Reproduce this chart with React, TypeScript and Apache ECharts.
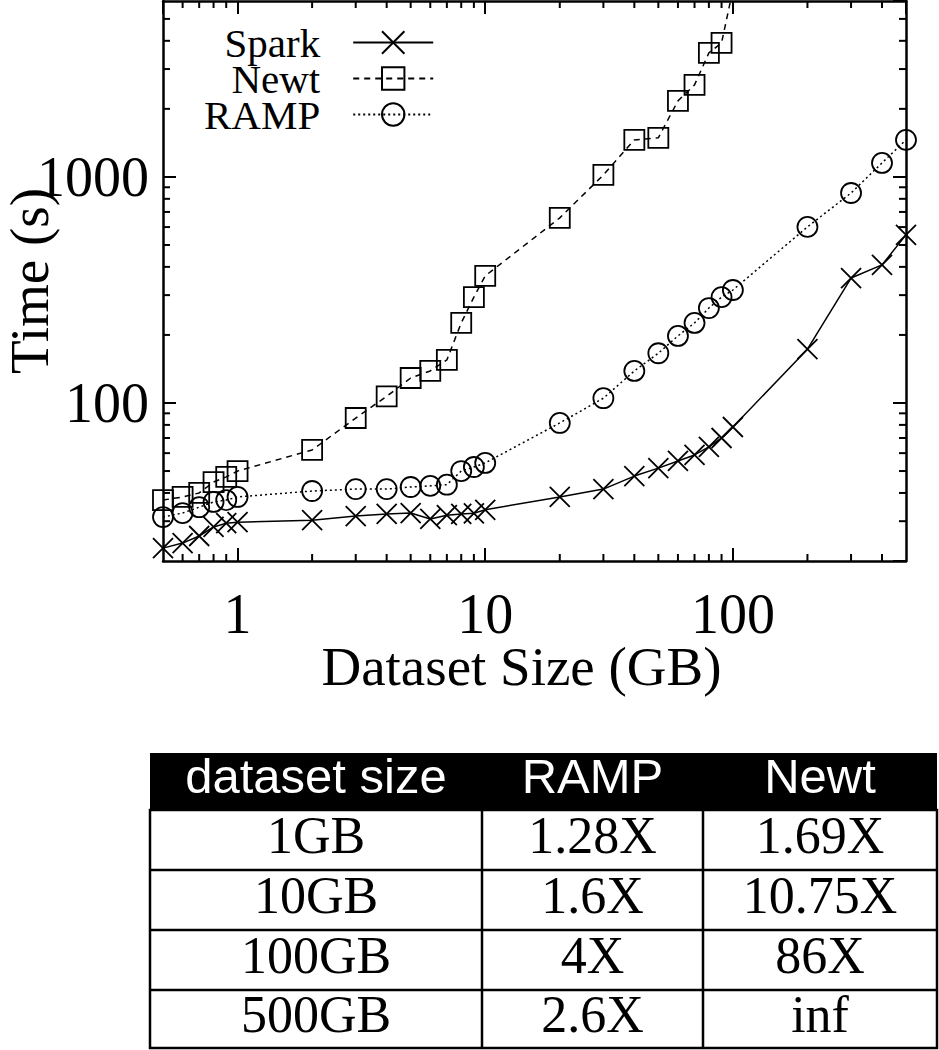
import React, { useEffect, useRef } from "react";
import * as echarts from "echarts";

// ---- data ----
const xValues = [0.5, 0.6, 0.7, 0.8, 0.9, 1, 2, 3, 4, 5, 6, 7, 8, 9, 10, 20, 30, 40, 50, 60, 70, 80, 90, 100, 200, 300, 400, 500];
const sparkTimes = [22.8, 24, 25.8, 28.3, 29.4, 29.7, 30.3, 31.6, 32.3, 32.6, 30.7, 31.9, 32.3, 32.5, 33.7, 38.4, 41.6, 47.5, 51.5, 55.4, 58.9, 63.9, 70, 78.3, 173, 357, 408, 554];
const newtTimes = [37.2, 38.4, 40, 44.7, 47.1, 50, 62, 85.8, 107, 129, 138.6, 155, 226, 294, 365, 659, 1020, 1458, 1489, 2170, 2553, 3538, 3917, 6730];
const rampTimes = [31.3, 32.6, 34.6, 36.5, 37.2, 38.4, 40.8, 41.6, 41.6, 42.5, 43, 43.5, 50, 52.1, 54.3, 81.6, 105, 138.6, 166, 198, 226, 263, 294, 316, 601, 849, 1153, 1458];
const seriesNames = ["Spark", "Newt", "RAMP"];
const xTickLabels = [1, 10, 100];
const yTickLabels = [100, 1000];
const xMinorTicks = [0.6, 0.7, 0.8, 0.9, 2, 3, 4, 5, 6, 7, 8, 9, 20, 30, 40, 50, 60, 70, 80, 90, 200, 300, 400];
const yMinorTicks = [30, 40, 50, 60, 70, 80, 90, 200, 300, 400, 500, 600, 700, 800, 900, 2000, 3000, 4000, 5000];
const tableHeader = ["dataset size", "RAMP", "Newt"];
const tableSizes = ["1GB", "10GB", "100GB", "500GB"];
const rampSpeedup = ["1.28X", "1.6X", "4X", "2.6X"];
const newtSpeedup = ["1.69X", "10.75X", "86X", "inf"];

const SERIF = "'Liberation Serif', 'Times New Roman', serif";
const SANS = "'Liberation Sans', Arial, sans-serif";

const X_SYMBOL = "path://M0,0L20,20M20,0L0,20";
const SQ_SYMBOL = "path://M0,0L20,0L20,20L0,20Z";
const CIRC_SYMBOL = "path://M20,10A10,10,0,1,1,0,10A10,10,0,1,1,20,10Z";

function pairs(xs: number[], ys: number[]) {
  return ys.map((y, i) => [xs[i], y]);
}

function labelFmt(list: number[]) {
  return (v: number) => {
    const m = list.find((t) => Math.abs(t - v) / t < 1e-6);
    return m !== undefined ? String(m) : "";
  };
}

function buildTable() {
  const colX = [150, 482, 703, 937];
  const rowY = [753, 810, 870, 930, 990, 1048];
  const els: any[] = [];
  const lw = 2.5;
  els.push({ type: "rect", shape: { x: colX[0], y: rowY[0], width: colX[3] - colX[0], height: rowY[1] - rowY[0] }, style: { fill: "#000" } });
  els.push({ type: "rect", shape: { x: colX[0], y: rowY[1], width: colX[3] - colX[0], height: rowY[5] - rowY[1] }, style: { fill: "none", stroke: "#000", lineWidth: lw } });
  for (let r = 2; r <= 4; r++) {
    els.push({ type: "line", shape: { x1: colX[0], y1: rowY[r], x2: colX[3], y2: rowY[r] }, style: { stroke: "#000", lineWidth: lw } });
  }
  for (let c = 1; c <= 2; c++) {
    els.push({ type: "line", shape: { x1: colX[c], y1: rowY[1], x2: colX[c], y2: rowY[5] }, style: { stroke: "#000", lineWidth: lw } });
  }
  const centers = [0, 1, 2].map((c) => (colX[c] + colX[c + 1]) / 2);
  tableHeader.forEach((t, c) => {
    els.push({ type: "text", x: centers[c], y: 776, style: { text: t, fill: "#fff", font: `49px ${SANS}`, textAlign: "center", textVerticalAlign: "middle" } });
  });
  const cols = [tableSizes, rampSpeedup, newtSpeedup];
  cols.forEach((col, c) => {
    col.forEach((t, r) => {
      const yc = (rowY[r + 1] + rowY[r + 2]) / 2 - 5;
      els.push({ type: "text", x: centers[c], y: yc, style: { text: t, fill: "#000", font: `52px ${SERIF}`, textAlign: "center", textVerticalAlign: "middle" } });
    });
  });
  return els;
}

export default function App() {
  const ref = useRef<HTMLDivElement>(null);
  useEffect(() => {
    if (!ref.current) return;
    const chart = echarts.init(ref.current, undefined, { renderer: "svg" });
    const axisLine = { show: true, onZero: false, lineStyle: { color: "#000", width: 2.5 } };
    const axisTick = { show: true, inside: true, length: 13, lineStyle: { color: "#000", width: 2 } };
    const lineCommon = (name: string, data: number[][], symbol: string, type: any) => ({
      name,
      type: "line",
      data,
      symbol,
      symbolSize: 20,
      clip: true,
      itemStyle: { color: "rgba(0,0,0,0)", borderColor: "#000", borderWidth: 1.8 },
      lineStyle: { color: "#000", width: 1.5, type },
      emphasis: { disabled: true },
      z: 3,
    });
    const tickStyle = { stroke: "#000", lineWidth: 2 };
    const option: any = {
      animation: false,
      backgroundColor: "#fff",
      grid: { left: 163, right: 33, top: 1, bottom: 489, containLabel: false, outerBoundsMode: "none" },
      legend: {
        data: seriesNames,
        orient: "vertical",
        align: "right",
        left: 204,
        top: 22,
        itemWidth: 80,
        itemHeight: 28,
        itemGap: -5,
        padding: 0,
        selectedMode: false,
        textStyle: { fontFamily: SERIF, fontSize: 41, color: "#000", padding: [0, 28, 0, 0] },
      },
      xAxis: [
        {
          type: "log",
          min: 0.5,
          max: 500,
          position: "bottom",
          axisLine,
          axisTick,
          splitLine: { show: false },
          minorTick: { show: false },
          axisLabel: { formatter: labelFmt(xTickLabels), showMinLabel: false, showMaxLabel: false, margin: 25, fontFamily: SERIF, fontSize: 56, color: "#000" },
          name: "Dataset Size (GB)",
          nameLocation: "middle",
          nameGap: 78,
          nameMoveOverlap: false,
          nameTextStyle: { fontFamily: SERIF, fontSize: 55, color: "#000", padding: [0, 26, 0, 0] },
        },
        {
          type: "log",
          min: 0.5,
          max: 500,
          position: "top",
          axisLine,
          axisTick,
          splitLine: { show: false },
          axisLabel: { show: false },
        },
      ],
      yAxis: [
        {
          type: "log",
          min: 20,
          max: 6000,
          position: "left",
          axisLine,
          axisTick,
          splitLine: { show: false },
          minorTick: { show: false },
          axisLabel: { formatter: labelFmt(yTickLabels), showMinLabel: false, showMaxLabel: false, margin: 14, fontFamily: SERIF, fontSize: 56, color: "#000" },
          name: "Time (s)",
          nameLocation: "middle",
          nameGap: 106,
          nameMoveOverlap: false,
          nameTextStyle: { fontFamily: SERIF, fontSize: 55, color: "#000" },
        },
        {
          type: "log",
          min: 20,
          max: 6000,
          position: "right",
          axisLine,
          axisTick,
          splitLine: { show: false },
          axisLabel: { show: false },
        },
      ],
      series: [
        lineCommon("Spark", pairs(xValues, sparkTimes), X_SYMBOL, "solid"),
        lineCommon("Newt", pairs(xValues, newtTimes), SQ_SYMBOL, [6, 5]),
        lineCommon("RAMP", pairs(xValues, rampTimes), CIRC_SYMBOL, [2, 3]),
        {
          type: "custom",
          silent: true,
          data: xMinorTicks.map((v) => [v, 100]),
          renderItem: (params: any, api: any) => {
            const cs = params.coordSys;
            const p = api.coord([api.value(0), api.value(1)]);
            const b = cs.y + cs.height;
            return {
              type: "group",
              children: [
                { type: "line", shape: { x1: p[0], y1: b, x2: p[0], y2: b - 7 }, style: tickStyle },
                { type: "line", shape: { x1: p[0], y1: cs.y, x2: p[0], y2: cs.y + 7 }, style: tickStyle },
              ],
            };
          },
        },
        {
          type: "custom",
          silent: true,
          data: yMinorTicks.map((v) => [1, v]),
          renderItem: (params: any, api: any) => {
            const cs = params.coordSys;
            const p = api.coord([api.value(0), api.value(1)]);
            const r = cs.x + cs.width;
            return {
              type: "group",
              children: [
                { type: "line", shape: { x1: cs.x, y1: p[1], x2: cs.x + 7, y2: p[1] }, style: tickStyle },
                { type: "line", shape: { x1: r, y1: p[1], x2: r - 7, y2: p[1] }, style: tickStyle },
              ],
            };
          },
        },
      ],
      graphic: buildTable(),
    };
    chart.setOption(option);
    return () => chart.dispose();
  }, []);
  return <div ref={ref} style={{ position: "fixed", left: 0, top: 0, width: 939, height: 1050, background: "#fff" }} />;
}
